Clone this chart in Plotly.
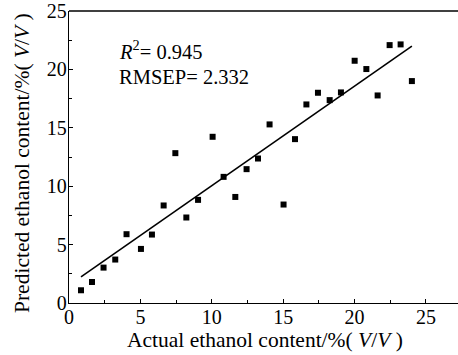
import plotly.graph_objects as go

actual = [0.84, 1.61, 2.42, 3.24, 4.03, 5.04, 5.81, 6.63, 7.45, 8.22, 9.04, 10.06,
          10.83, 11.65, 12.44, 13.24, 14.05, 15.03, 15.83, 16.63, 17.44, 18.26,
          19.05, 20.01, 20.83, 21.62, 22.46, 23.23, 24.02]
predicted = [1.09, 1.80, 3.03, 3.72, 5.89, 4.63, 5.86, 8.35, 12.83, 7.32, 8.83, 14.23,
             10.80, 9.08, 11.46, 12.37, 15.29, 8.43, 14.03, 17.00, 18.00, 17.37,
             18.03, 20.74, 20.03, 17.77, 22.08, 22.14, 19.00]
fit_x = [0.84, 24.02]
fit_y = [2.23, 22.00]
tick_vals = [0, 5, 10, 15, 20, 25]
x_title = "Actual ethanol content/%( <i>V</i>/<i>V</i> )"
y_title = "Predicted ethanol content/%( <i>V</i>/<i>V</i> )"

FONT = "Liberation Serif"
W, H = 458, 355
L, R, T, B = 69, 0, 11, 52
PW, PH = W - L - R, H - T - B


def px(xp):
    return (xp - L) / PW


def py(yp):
    return (H - B - yp) / PH


fig = go.Figure()
fig.add_trace(go.Scatter(x=fit_x, y=fit_y, mode="lines",
                         line=dict(color="black", width=1.6), showlegend=False))
fig.add_trace(go.Scatter(x=actual, y=predicted, mode="markers",
                         marker=dict(symbol="square", size=6, color="black"),
                         showlegend=False))

axis_common = dict(
    showline=True, linecolor="black", linewidth=1.3,
    ticks="inside", ticklen=4, tickwidth=1, tickcolor="black",
    showgrid=False, zeroline=False, automargin=False,
    tickvals=tick_vals, tickfont=dict(family=FONT, size=20, color="black"),
    minor=dict(ticks="inside", ticklen=3, tickwidth=1, tickcolor="black", dtick=2.5),
)

fig.update_xaxes(range=[0, 27.25], **axis_common, ticklabelstandoff=-4)
fig.update_yaxes(range=[0, 25], **axis_common, ticklabelstandoff=-3)

fig.add_shape(type="line", xref="paper", yref="paper", x0=0, x1=1, y0=1, y1=1,
              line=dict(color="black", width=1.3))

fig.add_annotation(xref="paper", yref="paper", x=px(117), y=py(50),
                   xanchor="left", yanchor="middle", showarrow=False,
                   text="<i>R</i><sup>2</sup>= 0.945",
                   font=dict(family=FONT, size=20.5, color="black"))
fig.add_annotation(xref="paper", yref="paper", x=px(117), y=py(77),
                   xanchor="left", yanchor="middle", showarrow=False,
                   text="RMSEP= 2.332",
                   font=dict(family=FONT, size=20.5, color="black"))
fig.add_annotation(xref="paper", yref="paper", x=px(265), y=py(340),
                   xanchor="center", yanchor="middle", showarrow=False,
                   text=x_title, font=dict(family=FONT, size=21.5, color="black"))
fig.add_annotation(xref="paper", yref="paper", x=px(22), y=py(163),
                   xanchor="center", yanchor="middle", showarrow=False, textangle=-90,
                   text=y_title, font=dict(family=FONT, size=21.5, color="black"))

fig.update_layout(width=W, height=H, plot_bgcolor="white", paper_bgcolor="white",
                  margin=dict(l=L, r=R, t=T, b=B))
fig.write_html("out.html", config={"displayModeBar": False},
               post_script="document.body.style.margin='0';document.body.style.overflow='hidden';")
